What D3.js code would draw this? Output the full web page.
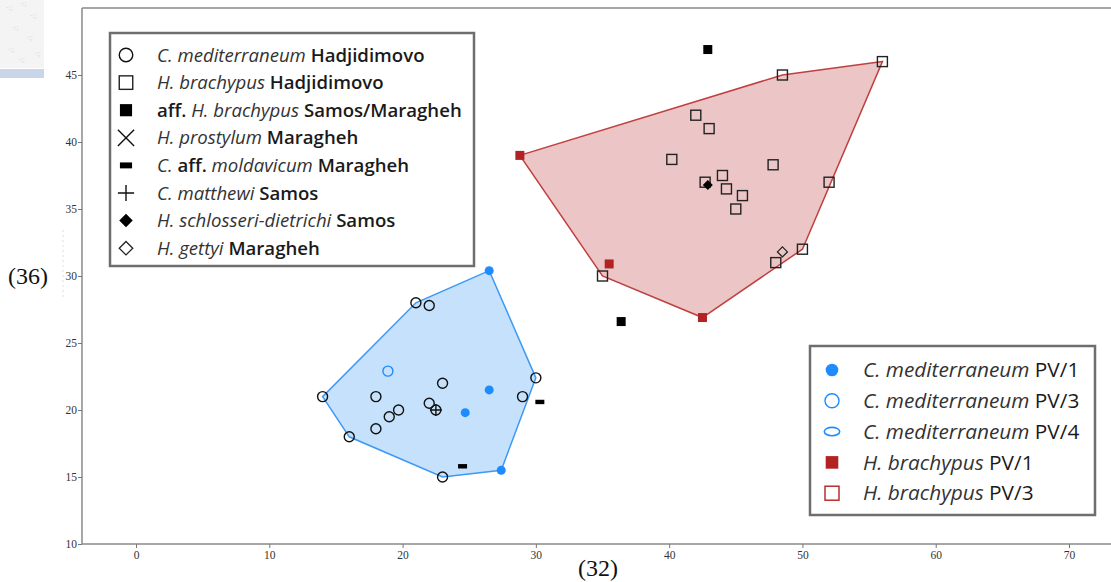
<!DOCTYPE html>
<html>
<head>
<meta charset="utf-8">
<script src="https://cdn.jsdelivr.net/npm/d3@7"></script>
<style>
  body { margin: 0; background: #fff; }
</style>
</head>
<body>
<div id="chart"></div>
<script>
// ---- data ----
const xTicks = [0, 10, 20, 30, 40, 50, 60, 70];
const yTicks = [10, 15, 20, 25, 30, 35, 40, 45];

const cmedHadjidimovo = [[21, 28], [22, 27.8], [30, 22.4], [14, 21], [18, 21], [23, 22], [29, 21],
    [22, 20.5], [22.5, 20], [19.7, 20], [19, 19.5], [18, 18.6], [16, 18], [23, 15]];
const cmedPV1 = [[26.5, 30.4], [26.5, 21.5], [24.7, 19.8], [27.4, 15.5]];
const cmedPV3 = [[18.9, 22.9]];
const hbrachHadjidimovo = [[56, 46], [48.5, 45], [42, 42], [43, 41], [40.2, 38.7], [47.8, 38.3],
    [44, 37.5], [42.7, 37], [52, 37], [44.3, 36.5], [45.5, 36], [45, 35], [50, 32], [48, 31], [35, 30]];
const hbrachPV1 = [[28.8, 39], [35.5, 30.9], [42.5, 26.9]];
const affHbrachypus = [[42.9, 46.9], [36.4, 26.6]];
const cMoldavicum = [[30.3, 20.6], [24.5, 15.8]];
const cMatthewi = [[22.5, 20]];
const hSchlosseri = [[42.9, 36.8]];
const hGettyi = [[48.5, 31.8]];

// legend entries: [italic?, text] pieces
const legendLeft = [
    ["circle", [[1, "C. mediterraneum"], [0, " Hadjidimovo"]]],
    ["square", [[1, "H. brachypus"], [0, " Hadjidimovo"]]],
    ["squareFill", [[0, "aff. "], [1, "H. brachypus"], [0, " Samos/Maragheh"]]],
    ["cross", [[1, "H. prostylum"], [0, " Maragheh"]]],
    ["dash", [[1, "C. "], [0, "aff. "], [1, "moldavicum"], [0, " Maragheh"]]],
    ["plus", [[1, "C. matthewi"], [0, " Samos"]]],
    ["diamondFill", [[1, "H. schlosseri-dietrichi"], [0, " Samos"]]],
    ["diamond", [[1, "H. gettyi"], [0, " Maragheh"]]]
];
const legendRight = [
    ["blueFill", [[1, "C. mediterraneum"], [0, " PV/1"]]],
    ["blueOpen", [[1, "C. mediterraneum"], [0, " PV/3"]]],
    ["blueEllipse", [[1, "C. mediterraneum"], [0, " PV/4"]]],
    ["redFill", [[1, "H. brachypus"], [0, " PV/1"]]],
    ["redOpen", [[1, "H. brachypus"], [0, " PV/3"]]]
];

const W = 1111, H = 582;
const blue = "#1e8cff", red = "#b22222";

const svg = d3.select("#chart")
    .append("svg")
    .attr("width", W)
    .attr("height", H);

// ---- scales ----
const x = d3.scaleLinear().domain([0, 70]).range([136, 1069]);
const y = d3.scaleLinear().domain([10, 45]).range([544, 75]);

// ---- bits of the scanned page around the chart ----
svg.append("rect").attr("x", 0).attr("y", 0).attr("width", 44).attr("height", 68).attr("fill", "#f4f4f4");
[[6, 10], [20, 6], [30, 18], [12, 30], [26, 40], [8, 52], [34, 56], [18, 62]].forEach(p => {
    svg.append("text").attr("x", p[0]).attr("y", p[1]).attr("font-size", 7)
        .attr("fill", "#cfcfcf").attr("font-family", "DejaVu Sans").text("·:;");
});
svg.append("rect").attr("x", 0).attr("y", 69).attr("width", 44).attr("height", 9).attr("fill", "#c9d6ea");
svg.append("line").attr("x1", 63).attr("x2", 63).attr("y1", 230).attr("y2", 300)
    .attr("stroke", "#ddd").attr("stroke-dasharray", "2,3");

svg.append("text").attr("x", 8).attr("y", 284)
    .attr("font-family", "Liberation Serif").attr("font-size", 24).attr("fill", "#111").text("(36)");
svg.append("text").attr("x", 578).attr("y", 576)
    .attr("font-family", "Liberation Serif").attr("font-size", 24).attr("fill", "#111").text("(32)");

// ---- frame and axes ----
svg.append("line").attr("x1", 82).attr("x2", W).attr("y1", 8).attr("y2", 8)
    .attr("stroke", "#8a8a8a").attr("stroke-width", 1.5);
svg.append("line").attr("x1", 82).attr("x2", 82).attr("y1", 8).attr("y2", 544)
    .attr("stroke", "#8a8a8a").attr("stroke-width", 1.5);
svg.append("line").attr("x1", 82).attr("x2", W).attr("y1", 544).attr("y2", 544)
    .attr("stroke", "#8a8a8a").attr("stroke-width", 1.5);

const gx = svg.append("g")
    .attr("transform", "translate(0,544)")
    .call(d3.axisBottom(x).tickValues(xTicks).tickSize(4).tickPadding(3));
const gy = svg.append("g")
    .attr("transform", "translate(82,0)")
    .call(d3.axisLeft(y).tickValues(yTicks).tickSize(4).tickPadding(1));
[gx, gy].forEach(g => {
    g.select(".domain").remove();
    g.selectAll(".tick line").attr("stroke", "#777");
    g.selectAll(".tick text").attr("font-family", "Liberation Serif").attr("font-size", 11.5).attr("fill", "#333");
});

// ---- convex hulls ----
const blueHull = d3.polygonHull(cmedHadjidimovo.concat(cmedPV1, cmedPV3).map(d => [x(d[0]), y(d[1])]));
const redHull = d3.polygonHull(hbrachHadjidimovo.concat(hbrachPV1).map(d => [x(d[0]), y(d[1])]));

svg.append("path").attr("d", "M" + blueHull.join("L") + "Z")
    .attr("fill", "#c6e1fb").attr("stroke", "#3d99f5").attr("stroke-width", 1.5);
svg.append("path").attr("d", "M" + redHull.join("L") + "Z")
    .attr("fill", "#ecc6c6").attr("stroke", "#c04040").attr("stroke-width", 1.5);

// ---- markers ----
function marker(g, kind, cx, cy, s) {
    s = s || 1;
    const k = g.append("g").attr("transform", `translate(${cx},${cy})`);
    switch (kind) {
        case "circle":
            k.append("circle").attr("r", 5 * s).attr("fill", "none").attr("stroke", "#111").attr("stroke-width", 1.4); break;
        case "square":
            k.append("rect").attr("x", -5 * s).attr("y", -5 * s).attr("width", 10 * s).attr("height", 10 * s)
                .attr("fill", "none").attr("stroke", "#222").attr("stroke-width", 1.4); break;
        case "squareFill":
            k.append("rect").attr("x", -4.5 * s).attr("y", -4.5 * s).attr("width", 9 * s).attr("height", 9 * s).attr("fill", "#000"); break;
        case "cross":
            k.append("path").attr("d", `M${-6 * s},${-6 * s}L${6 * s},${6 * s}M${-6 * s},${6 * s}L${6 * s},${-6 * s}`)
                .attr("stroke", "#111").attr("stroke-width", 1.4); break;
        case "dash":
            k.append("rect").attr("x", -4.5 * s).attr("y", -2.2 * s).attr("width", 9 * s).attr("height", 4.4 * s).attr("fill", "#000"); break;
        case "plus":
            k.append("path").attr("d", `M${-6 * s},0L${6 * s},0M0,${-6 * s}L0,${6 * s}`)
                .attr("stroke", "#111").attr("stroke-width", 1.4); break;
        case "diamondFill":
            k.append("path").attr("d", `M0,${-5 * s}L${5 * s},0L0,${5 * s}L${-5 * s},0Z`).attr("fill", "#000"); break;
        case "diamond":
            k.append("path").attr("d", `M0,${-5 * s}L${5 * s},0L0,${5 * s}L${-5 * s},0Z`)
                .attr("fill", "none").attr("stroke", "#222").attr("stroke-width", 1.3); break;
        case "blueFill":
            k.append("circle").attr("r", 4.5 * s).attr("fill", blue); break;
        case "blueOpen":
            k.append("circle").attr("r", 5 * s).attr("fill", "none").attr("stroke", blue).attr("stroke-width", 1.4); break;
        case "blueEllipse":
            k.append("ellipse").attr("rx", 5.5 * s).attr("ry", 3 * s).attr("fill", "none").attr("stroke", blue).attr("stroke-width", 1.6); break;
        case "redFill":
            k.append("rect").attr("x", -4.5 * s).attr("y", -4.5 * s).attr("width", 9 * s).attr("height", 9 * s).attr("fill", red); break;
        case "redOpen":
            k.append("rect").attr("x", -5 * s).attr("y", -5 * s).attr("width", 10 * s).attr("height", 10 * s)
                .attr("fill", "none").attr("stroke", red).attr("stroke-width", 1.4); break;
    }
}

const pts = svg.append("g");
const series = [
    ["circle", cmedHadjidimovo], ["blueOpen", cmedPV3], ["blueFill", cmedPV1],
    ["dash", cMoldavicum], ["plus", cMatthewi],
    ["square", hbrachHadjidimovo], ["redFill", hbrachPV1], ["squareFill", affHbrachypus],
    ["diamondFill", hSchlosseri], ["diamond", hGettyi]
];
series.forEach(s => s[1].forEach(d => marker(pts, s[0], x(d[0]), y(d[1]))));

// ---- legends ----
function legend(box, rows, opts) {
    const g = svg.append("g");
    g.append("rect").attr("x", box[0]).attr("y", box[1]).attr("width", box[2]).attr("height", box[3])
        .attr("fill", "#fff").attr("stroke", "#6e6e6e").attr("stroke-width", 2.5);
    rows.forEach((r, i) => {
        const cy = opts.y0 + i * opts.dy;
        marker(g, r[0], opts.sx, cy, opts.scale);
        const t = g.append("text").attr("x", opts.tx).attr("y", cy).attr("dy", "0.35em")
            .attr("font-family", "Open Sans").attr("font-size", opts.fs).attr("fill", "#222");
        r[1].forEach(p => t.append("tspan").attr("font-style", p[0] ? "italic" : "normal")
            .attr("font-weight", p[0] ? 400 : opts.fw)
            .attr("fill", p[0] ? "#333" : "#1a1a1a").text(p[1]));
    });
}

legend([110, 33, 364, 233], legendLeft, {sx: 126, tx: 157, y0: 55, dy: 27.6, fs: 18.6, fw: 600, scale: 1.35});
legend([810, 346, 285, 169], legendRight, {sx: 832, tx: 863, y0: 370, dy: 30.8, fs: 20.8, fw: 400, scale: 1.4});
</script>
</body>
</html>
